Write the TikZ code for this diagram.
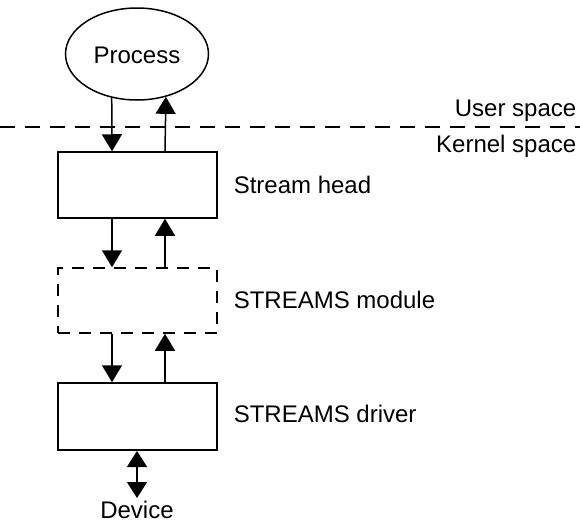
\documentclass[tikz,border=0pt]{standalone}
\usepackage{fontspec}
\setmainfont{Liberation Sans}
\usetikzlibrary{arrows.meta,shapes.geometric}
\begin{document}
\begin{tikzpicture}[x=1pt,y=-1pt,
  line width=1.5pt,
  lbl/.style={font=\fontsize{24}{28}\selectfont, inner sep=0pt},
  box/.style={draw, minimum width=159pt, inner sep=0pt},
  arr/.style={-{Triangle[width=20pt,length=17pt]}, line width=1.5pt},
  darr/.style={{Triangle[width=20pt,length=16pt]}-{Triangle[width=20pt,length=16pt]}, line width=1.5pt}]
\useasboundingbox (0,0) rectangle (580,522);
\node[draw, ellipse, minimum width=143pt, minimum height=92pt, inner sep=0pt] (proc) at (137,54) {};
\node[lbl, anchor=base] (pt) at (137,63) {Process};
\draw[dashed, dash pattern=on 15pt off 10pt] (0,127) coordinate (dl) -- (580,127) coordinate (dr);
\node[lbl, anchor=base east] (us) at (577,116) {User space};
\node[lbl, anchor=base east] (ks) at (577,152) {Kernel space};
\node[box, minimum height=66pt] (head) at (137.5,185) {};
\node[box, minimum height=65pt, dashed, dash pattern=on 12pt off 9pt] (mod) at (137.5,300.5) {};
\node[box, minimum height=67pt] (drv) at (137.5,416.5) {};
\node[lbl, anchor=base west] (th) at (233,193) {Stream head};
\node[lbl, anchor=base west] (tm) at (233,308) {STREAMS module};
\node[lbl, anchor=base west] (td) at (233,422) {STREAMS driver};
\node[lbl, anchor=base] (dev) at (137,518) {Device};
\coordinate (L) at (112,0);
\coordinate (R) at (165,0);
\coordinate (d1) at (137,451);
\coordinate (d2) at (137,498);
% arrows
\draw[arr] (proc.240) -- (L |- head.north);
\draw[arr] (R |- head.north) -- (proc.304);
\draw[arr] (L |- head.south) -- (L |- mod.north);
\draw[arr] (R |- mod.north) -- (R |- head.south);
\draw[arr] (L |- mod.south) -- (L |- drv.north);
\draw[arr] (R |- drv.north) -- (R |- mod.south);
\draw[darr] (d1) -- (d2);
\end{tikzpicture}
\end{document}
